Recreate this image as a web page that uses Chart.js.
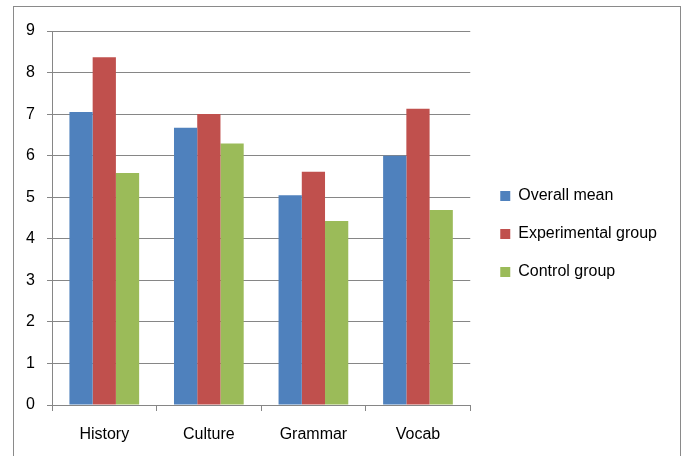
<!DOCTYPE html>
<html>
<head>
<meta charset="utf-8">
<script src="https://cdn.jsdelivr.net/npm/chart.js@4/dist/chart.umd.min.js"></script>
<style>
  html, body { margin: 0; padding: 0; background: #ffffff; }
  #wrap { position: relative; width: 683px; height: 456px; }
</style>
</head>
<body>
<div id="wrap"><canvas id="c" width="683" height="456"></canvas></div>
<script>
const categories = ["History", "Culture", "Grammar", "Vocab"];
const seriesNames = ["Overall mean", "Experimental group", "Control group"];
const overallMean = [7.05, 6.67, 5.05, 6.0];
const experimentalGroup = [8.37, 7.0, 5.61, 7.13];
const controlGroup = [5.58, 6.29, 4.43, 4.69];
const yTicks = [0, 1, 2, 3, 4, 5, 6, 7, 8, 9];

const colors = ["#4F81BD", "#C0504D", "#9BBB59"];
const gridColor = "#868686";
const fontFamily = "'Liberation Sans', Arial, sans-serif";

const frame = {
  id: "frame",
  afterDraw(chart) {
    const ctx = chart.ctx;
    ctx.save();
    ctx.strokeStyle = "#8a8a8a";
    ctx.lineWidth = 1;
    ctx.strokeRect(13.5, 6.5, 667, 470);
    ctx.restore();
  }
};

new Chart(document.getElementById("c"), {
  type: "bar",
  data: {
    labels: categories,
    datasets: [
      { label: seriesNames[0], data: overallMean, backgroundColor: colors[0] },
      { label: seriesNames[1], data: experimentalGroup, backgroundColor: colors[1] },
      { label: seriesNames[2], data: controlGroup, backgroundColor: colors[2] }
    ]
  },
  options: {
    responsive: false,
    animation: false,
    datasets: { bar: { categoryPercentage: 3 / 4.5, barPercentage: 1.0, borderWidth: 0 } },
    layout: { padding: { left: 0, top: 21, bottom: 9, right: 16 } },
    plugins: {
      tooltip: { enabled: false },
      title: {
        display: true,
        text: "",
        fullSize: false,
        padding: 0,
        font: { size: 10, lineHeight: 1.0 }
      },
      legend: {
        position: "right",
        align: "center",
        maxWidth: 220,
        labels: {
          boxWidth: 10,
          boxHeight: 10,
          padding: 22,
          color: "#000000",
          font: { family: fontFamily, size: 16 }
        }
      }
    },
    scales: {
      x: {
        offset: true,
        grid: { display: true, drawOnChartArea: false, drawTicks: true, tickLength: 6, color: gridColor, offset: true },
        border: { display: true, color: gridColor, width: 1 },
        ticks: { color: "#000000", padding: 14, font: { family: fontFamily, size: 16 }, maxRotation: 0 },
        afterFit(s) { s.height = 42; }
      },
      y: {
        min: 0,
        max: 9,
        afterBuildTicks(s) { s.ticks = yTicks.map(v => ({ value: v })); },
        grid: { color: gridColor, tickLength: 5, drawTicks: true },
        border: { display: true, color: gridColor, width: 1 },
        ticks: { color: "#000000", padding: 12, font: { family: fontFamily, size: 16 } },
        afterFit(s) { s.width = 52; }
      },
      y2: {
        position: "right",
        display: true,
        grid: { display: false, drawTicks: false },
        border: { display: false },
        ticks: { display: false },
        afterFit(s) { s.width = 8; }
      }
    }
  },
  plugins: [frame]
});
</script>
</body>
</html>
